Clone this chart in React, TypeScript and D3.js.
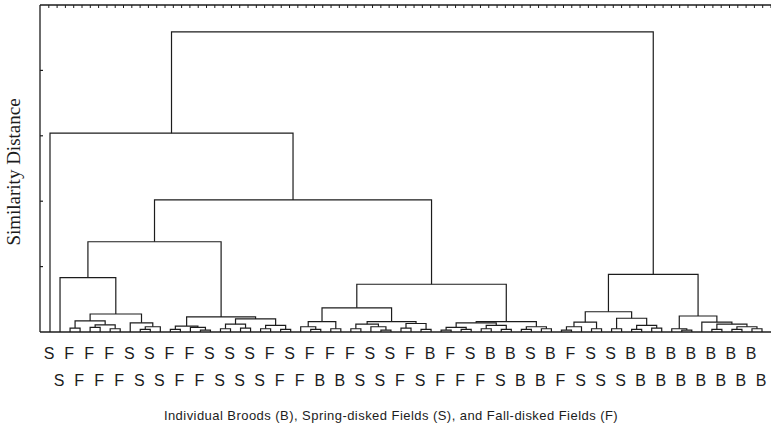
import React, { useRef, useEffect } from "react";
import * as d3 from "d3";

// leaf labels, read left to right; the two printed rows alternate leaves
const topRowLabels = ["S","F","F","F","S","S","F","F","S","S","S","F","S","F","F","F","S","S","F","B","F","S","B","B","S","B","F","S","S","B","B","B","B","B","B","B"];
const bottomRowLabels = ["S","F","F","F","S","S","F","F","S","S","S","F","F","B","B","S","S","F","S","F","F","F","S","B","B","F","S","S","S","B","B","B","B","B","B","B"];
const leafLabels = topRowLabels.flatMap((t, i) => [t, bottomRowLabels[i]]);

// clusters as [mergeHeight, left, right]; numbers are leaf indices
const clusterD1 = [0.83, 1, [0.275, [0.17, [0.06, 2, 3], [0.11, [0.07, 4, 5], [0.05, 6, 7]]], [0.14, 8, [0.08, [0.04, 9, 10], 11]]]];
const clusterD2 = [0.23, [0.09, [0.04, 12, 13], [0.07, 14, [0.03, 15, 16]]], [0.2, [0.12, [0.05, 17, 18], [0.06, 19, 20]], [0.1, [0.05, 21, 22], [0.04, 23, 24]]]];
const clusterF = [0.37, [0.16, [0.08, 25, [0.04, 26, 27]], [0.05, 28, 29]], [0.16, [0.12, [0.05, 30, 31], [0.08, 32, [0.03, 33, 34]]], [0.13, [0.06, 35, 36], [0.04, 37, 38]]]];
const clusterG = [0.16, [0.14, [0.07, [0.03, 39, 40], [0.04, 41, 42]], [0.1, [0.05, 43, 44], [0.04, 45, 46]]], [0.08, [0.04, 47, 48], [0.05, 49, 50]]];
const clusterBroodsA = [0.31, [0.15, [0.08, [0.03, 51, 52], 53], [0.05, 54, 55]], [0.21, [0.05, 56, 57], [0.1, [0.04, 58, 59], [0.06, 60, 61]]]];
const clusterBroodsB = [0.245, [0.05, 62, [0.03, 63, 64]], [0.15, 65, [0.12, [0.04, 66, 67], [0.08, [0.04, 68, 69], [0.05, 70, 71]]]]];

const tree = [4.59,
  [3.04, 0, [2.02, [1.38, clusterD1, clusterD2], [0.73, clusterF, clusterG]]],
  [0.88, clusterBroodsA, clusterBroodsB]];

const yTicks = [1, 2, 3, 4];
const topTickCount = 88;

const App = () => {
  const ref = useRef<SVGSVGElement>(null);

  useEffect(() => {
    const svg = d3.select(ref.current);
    svg.selectAll("*").remove();

    const left = 40, right = 771, top = 5, bottom = 332;
    const x = d3.scalePoint<number>().domain(d3.range(leafLabels.length)).range([50, 762]);
    const y = d3.scaleLinear().domain([0, 5]).range([bottom, top]);
    const ink = "#1c1c1c";

    const root: any = d3.hierarchy<any>(tree, (d) => (typeof d === "number" ? null : d.slice(1)));
    root.eachAfter((n: any) => {
      if (!n.children) {
        n.px = x(n.data);
        n.py = y(0);
      } else {
        n.px = (n.children[0].px + n.children[n.children.length - 1].px) / 2;
        n.py = y(n.data[0]);
      }
    });

    const g = svg.append("g");

    // frame: top line with ticks, left axis, baseline
    g.append("line").attr("x1", left).attr("x2", right).attr("y1", top).attr("y2", top)
      .attr("stroke", ink).attr("stroke-width", 1.3);
    const tx = d3.scaleLinear().domain([0, topTickCount]).range([left + 0.5, right]);
    g.selectAll(".ttick").data(d3.range(1, topTickCount + 1)).enter().append("line")
      .attr("x1", (d) => tx(d)).attr("x2", (d) => tx(d))
      .attr("y1", top).attr("y2", top + 3)
      .attr("stroke", ink).attr("stroke-width", 1);
    g.append("line").attr("x1", left).attr("x2", left).attr("y1", top).attr("y2", bottom)
      .attr("stroke", ink).attr("stroke-width", 1.3);
    g.selectAll(".ytick").data(yTicks).enter().append("line")
      .attr("x1", left).attr("x2", left + 3)
      .attr("y1", (d) => y(d)).attr("y2", (d) => y(d))
      .attr("stroke", ink).attr("stroke-width", 1.2);
    g.append("line").attr("x1", left).attr("x2", right).attr("y1", bottom).attr("y2", bottom)
      .attr("stroke", ink).attr("stroke-width", 1.6);

    // dendrogram elbows
    g.selectAll(".link").data(root.descendants().filter((n: any) => n.children)).enter().append("path")
      .attr("d", (n: any) => {
        const a = n.children[0], b = n.children[1];
        return `M${a.px},${a.py}V${n.py}H${b.px}V${b.py}`;
      })
      .attr("fill", "none").attr("stroke", ink).attr("stroke-width", 1.2);

    // leaf labels in two staggered rows
    g.selectAll(".leaf").data(leafLabels).enter().append("text")
      .attr("x", (_d, i) => (x(i) as number) - 1)
      .attr("y", (_d, i) => (i % 2 === 0 ? 359 : 386))
      .attr("text-anchor", "middle")
      .attr("font-family", "Liberation Sans Narrow, Liberation Sans, Arial, sans-serif")
      .attr("font-size", 16)
      .attr("fill", ink)
      .text((d) => d);

    g.append("text")
      .attr("x", 391).attr("y", 420)
      .attr("text-anchor", "middle")
      .attr("font-family", "Liberation Sans, Arial, sans-serif")
      .attr("font-size", 13)
      .attr("letter-spacing", 0.45)
      .attr("fill", ink)
      .text("Individual Broods (B), Spring-disked Fields (S), and Fall-disked Fields (F)");

    g.append("text")
      .attr("transform", "translate(20,172) rotate(-90)")
      .attr("text-anchor", "middle")
      .attr("font-family", "Liberation Serif, Times New Roman, serif")
      .attr("font-size", 19)
      .attr("fill", ink)
      .text("Similarity Distance");
  }, []);

  return (
    <svg ref={ref} width={771} height={430}
      style={{ position: "absolute", left: 0, top: 0, background: "#fff", display: "block" }} />
  );
};

export default App;
